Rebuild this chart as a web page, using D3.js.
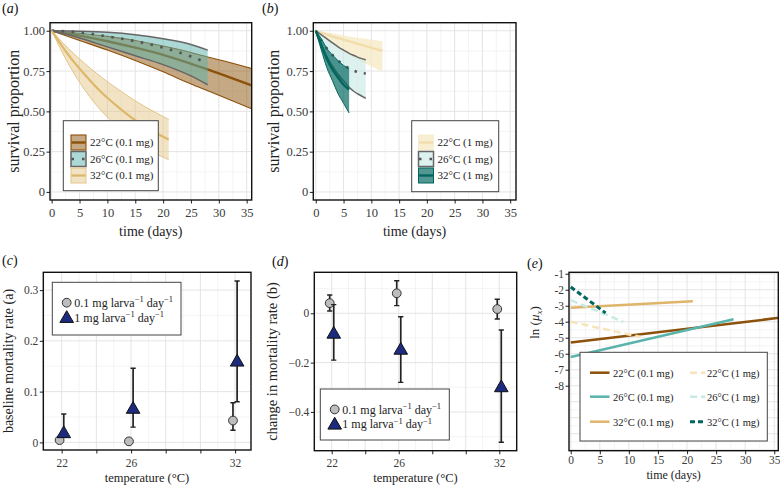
<!DOCTYPE html>
<html>
<head>
<meta charset="utf-8">
<script src="https://cdn.jsdelivr.net/npm/d3@7"></script>
<style>
  body { margin: 0; background: #fff; }
  svg { display: block; }
</style>
</head>
<body>
<svg id="chart" width="780" height="487"></svg>
<script>
// ---- survival curves, panel (a): 0.1 mg larva-1 day-1
const days22a = [0, 5, 10, 15, 20, 25, 28, 30, 36];
const mid22a  = [1, 0.97, 0.935, 0.895, 0.85, 0.795, 0.76, 0.735, 0.66];
const hi22a   = [1, 0.985, 0.965, 0.94, 0.905, 0.865, 0.837, 0.82, 0.765];
const lo22a   = [1, 0.94, 0.88, 0.815, 0.745, 0.67, 0.628, 0.6, 0.515];

const days26a = [0, 5, 10, 15, 20, 25, 28];
const mid26a  = [1, 0.99, 0.965, 0.935, 0.895, 0.84, 0.80];
const hi26a   = [1, 0.997, 0.99, 0.975, 0.95, 0.915, 0.88];
const lo26a   = [1, 0.955, 0.9, 0.845, 0.79, 0.72, 0.665];

const days32a = [0, 3, 6, 9, 12, 15, 18, 21];
const mid32a  = [1, 0.85, 0.725, 0.615, 0.525, 0.445, 0.38, 0.325];
const hi32a   = [1, 0.89, 0.795, 0.71, 0.635, 0.565, 0.505, 0.45];
const lo32a   = [1, 0.795, 0.63, 0.5, 0.4, 0.315, 0.25, 0.2];

// ---- survival curves, panel (b): 1 mg larva-1 day-1
const days22b = [0, 3, 6, 9, 12];
const mid22b  = [1, 0.965, 0.935, 0.905, 0.875];
const hi22b   = [1, 0.985, 0.965, 0.95, 0.935];
const lo22b   = [1, 0.92, 0.85, 0.795, 0.745];

const days26b = [0, 1, 2, 3, 4, 5, 6, 7, 8, 9];
const mid26b  = [1, 0.94, 0.89, 0.85, 0.815, 0.79, 0.765, 0.75, 0.74, 0.735];
const hi26b   = [1, 0.975, 0.95, 0.925, 0.9, 0.88, 0.86, 0.845, 0.83, 0.82];
const lo26b   = [1, 0.91, 0.84, 0.78, 0.73, 0.69, 0.65, 0.62, 0.6, 0.58];

const days32b = [0, 1, 2, 3, 4, 5, 6];
const mid32b  = [1, 0.91, 0.825, 0.76, 0.71, 0.665, 0.635];
const hi32b   = [1, 0.95, 0.89, 0.85, 0.815, 0.785, 0.765];
const lo32b   = [1, 0.88, 0.77, 0.69, 0.61, 0.55, 0.49];

// ---- parameter estimates, panels (c) and (d)
const temps = [22, 26, 32];
const baseLow    = [0.0045, 0.002, 0.043];
const baseLowLo  = [0.001, 0.0005, 0.024];
const baseLowHi  = [0.008, 0.004, 0.078];
const baseHigh   = [0.019, 0.067, 0.16];
const baseHighLo = [0.01, 0.03, 0.08];
const baseHighHi = [0.056, 0.146, 0.318];

const changeLow    = [0.041, 0.081, 0.017];
const changeLowLo  = [0.009, 0.031, -0.023];
const changeLowHi  = [0.074, 0.132, 0.057];
const changeHigh   = [-0.081, -0.146, -0.298];
const changeHighLo = [-0.19, -0.28, -0.523];
const changeHighHi = [0.035, -0.014, -0.068];

// ---- log mortality lines, panel (e)
const lnLabels = ["22°C (0.1 mg)", "26°C (0.1 mg)", "32°C (0.1 mg)", "22°C (1 mg)", "26°C (1 mg)", "32°C (1 mg)"];
const lnDays   = [[0, 36], [0, 28], [0, 21], [0, 12], [0, 9], [0, 6]];
const lnValues = [[-5.3, -3.75], [-6.2, -3.85], [-3.13, -2.72], [-4.0, -4.95], [-2.65, -4.0], [-1.83, -3.45]];

const timeTicks = [0, 5, 10, 15, 20, 25, 30, 35];
const survTicks = [0, 0.25, 0.5, 0.75, 1];
const tempTicks = [22, 24, 26, 28, 30, 32];

const serif = '"Liberation Serif", "Times New Roman", serif';
const svg = d3.select("#chart");
let clipCount = 0;

function makePanel(b, xDom, yDom) {
  const x = d3.scaleLinear().domain(xDom).range([b.l, b.r]);
  const y = d3.scaleLinear().domain(yDom).range([b.b, b.t]);
  const g = svg.append("g");
  const id = "clip" + (++clipCount);
  svg.append("clipPath").attr("id", id).append("rect")
    .attr("x", b.l).attr("y", b.t).attr("width", b.r - b.l).attr("height", b.b - b.t);
  g.append("rect").attr("x", b.l).attr("y", b.t).attr("width", b.r - b.l).attr("height", b.b - b.t).attr("fill", "#fff");
  const grid = g.append("g");
  const plot = g.append("g").attr("clip-path", `url(#${id})`);
  return { x, y, b, g, grid, plot };
}

function drawGrid(p, xMinor, xMajor, yMinor, yMajor) {
  const put = (vals, vertical, major) => {
    p.grid.selectAll(null).data(vals).join("line")
      .attr("x1", d => vertical ? p.x(d) : p.b.l)
      .attr("x2", d => vertical ? p.x(d) : p.b.r)
      .attr("y1", d => vertical ? p.b.t : p.y(d))
      .attr("y2", d => vertical ? p.b.b : p.y(d))
      .attr("stroke", major ? "#e4e4e4" : "#f1f1f1")
      .attr("stroke-width", major ? 1 : 0.8);
  };
  put(xMinor, true, false); put(yMinor, false, false);
  put(xMajor, true, true); put(yMajor, false, true);
}

function drawAxes(p, xt, xf, yt, yf, pad, size) {
  const ax = p.g.append("g").attr("transform", `translate(0,${p.b.b})`)
    .call(d3.axisBottom(p.x).tickValues(xt).tickFormat(xf).tickSize(3.5).tickPadding(pad));
  const ay = p.g.append("g").attr("transform", `translate(${p.b.l},0)`)
    .call(d3.axisLeft(p.y).tickValues(yt).tickFormat(yf).tickSize(3.5).tickPadding(1.5));
  [ax, ay].forEach(a => {
    a.select(".domain").remove();
    a.attr("font-family", serif).attr("font-size", size);
    a.selectAll("line").attr("stroke", "#333").attr("stroke-width", 1.1);
    a.selectAll("text").attr("fill", "#3a3a3a");
  });
  p.g.append("rect").attr("x", p.b.l).attr("y", p.b.t)
    .attr("width", p.b.r - p.b.l).attr("height", p.b.b - p.b.t)
    .attr("fill", "none").attr("stroke", "#111").attr("stroke-width", 1.4);
}

function label(x, y, txt, size, rotate) {
  const t = svg.append("text").attr("x", x).attr("y", y)
    .attr("font-family", serif).attr("font-size", size).attr("fill", "#222")
    .attr("text-anchor", "middle");
  if (rotate) t.attr("transform", `rotate(-90,${x},${y})`);
  t.text(txt);
  return t;
}

function panelTag(x, y, letter) {
  const t = svg.append("text").attr("x", x).attr("y", y).attr("font-family", serif).attr("font-size", 14).attr("fill", "#111");
  t.append("tspan").text("(");
  t.append("tspan").attr("font-style", "italic").text(letter);
  t.append("tspan").text(")");
}

function survival(p, days, mid, lo, hi, s) {
  const xi = (d, i) => p.x(days[i]);
  const area = d3.area().x(xi).y0((d, i) => p.y(lo[i])).y1((d, i) => p.y(hi[i])).curve(d3.curveMonotoneX);
  p.plot.append("path").datum(days).attr("d", area).attr("fill", s.fill).attr("fill-opacity", s.op);
  if (s.edge) {
    [lo, hi].forEach(arr => {
      const ln = d3.line().x(xi).y((d, i) => p.y(arr[i])).curve(d3.curveMonotoneX);
      p.plot.append("path").datum(days).attr("d", ln).attr("fill", "none")
        .attr("stroke", s.edge).attr("stroke-width", s.ew);
    });
  }
  const line = d3.line().x(xi).y((d, i) => p.y(mid[i])).curve(d3.curveMonotoneX);
  p.plot.append("path").datum(days).attr("d", line).attr("fill", "none")
    .attr("stroke", s.line).attr("stroke-width", s.lw)
    .attr("stroke-dasharray", s.dash || null);
}

function bandKey(g, x, y, s, txt) {
  const k = 15;
  g.append("rect").attr("x", x).attr("y", y).attr("width", k).attr("height", k)
    .attr("fill", s.fill).attr("fill-opacity", s.op)
    .attr("stroke", s.edge || s.fill).attr("stroke-opacity", s.edge ? 1 : 0.6).attr("stroke-width", s.edge ? s.ew : 1);
  g.append("line").attr("x1", x + 0.5).attr("x2", x + k - 0.5).attr("y1", y + k / 2).attr("y2", y + k / 2)
    .attr("stroke", s.line).attr("stroke-width", s.lw).attr("stroke-dasharray", s.keyDash || null);
  g.append("text").attr("x", x + k + 4).attr("y", y + k / 2 + 3.8)
    .attr("font-family", serif).attr("font-size", 11).attr("fill", "#222").text(txt);
}

// ---------------- panel (a)
const s22a = { fill: "#8c510a", op: 0.5, edge: "#8c510a", ew: 1.1, line: "#8c510a", lw: 2.4 };
const s26a = { fill: "#5ab4ac", op: 0.5, edge: "#666", ew: 1.5, line: "#555", lw: 2.6, dash: "2.5,7.5", keyDash: "2.5,8" };
const s32a = { fill: "#dfc27d", op: 0.45, edge: "#e2c688", ew: 1, line: "#ddb76a", lw: 2.2 };

const pa = makePanel({ l: 50, r: 251.7, t: 22.7, b: 200 }, [-0.3, 35.9], [-0.05, 1.05]);
drawGrid(pa, d3.range(2.5, 36, 5), timeTicks, d3.range(0.125, 1.01, 0.25), survTicks);
survival(pa, days22a, mid22a, lo22a, hi22a, s22a);
survival(pa, days26a, mid26a, lo26a, hi26a, s26a);
survival(pa, days32a, mid32a, lo32a, hi32a, s32a);
drawAxes(pa, timeTicks, d3.format("d"), survTicks, d => d === 0 ? "0" : d3.format(".2f")(d), 5, 12.5);
const legA = svg.append("g");
legA.append("rect").attr("x", 63.3).attr("y", 120.7).attr("width", 95).attr("height", 70)
  .attr("fill", "#fff").attr("stroke", "#444").attr("stroke-width", 1);
bandKey(legA, 71, 135, s22a, "22°C (0.1 mg)");
bandKey(legA, 71, 151.5, s26a, "26°C (0.1 mg)");
bandKey(legA, 71, 168, s32a, "32°C (0.1 mg)");
label(150.8, 236, "time (days)", 14);
label(19, 111.3, "survival proportion", 16, true);
panelTag(2, 13, "a");

// ---------------- panel (b)
const s22b = { fill: "#f6e8c3", op: 0.75, line: "#f1dcaa", lw: 2.2 };
const s26b = { fill: "#c7eae5", op: 0.6, edge: "#666", ew: 1.5, line: "#555", lw: 2.6, dash: "2.5,7", keyDash: "2.5,8" };
const s32b = { fill: "#01665e", op: 0.68, edge: "#01665e", ew: 1, line: "#01665e", lw: 2.4 };

const pb = makePanel({ l: 313.3, r: 516, t: 22.7, b: 200 }, [-0.45, 36.05], [-0.05, 1.05]);
drawGrid(pb, d3.range(2.5, 36, 5), timeTicks, d3.range(0.125, 1.01, 0.25), survTicks);
survival(pb, days22b, mid22b, lo22b, hi22b, s22b);
survival(pb, days26b, mid26b, lo26b, hi26b, s26b);
survival(pb, days32b, mid32b, lo32b, hi32b, s32b);
drawAxes(pb, timeTicks, d3.format("d"), survTicks, d => d === 0 ? "0" : d3.format(".2f")(d), 5, 12.5);
const legB = svg.append("g");
legB.append("rect").attr("x", 411.7).attr("y", 120.7).attr("width", 87).attr("height", 71)
  .attr("fill", "#fff").attr("stroke", "#444").attr("stroke-width", 1);
bandKey(legB, 418.5, 135, s22b, "22°C (1 mg)");
bandKey(legB, 418.5, 151.5, s26b, "26°C (1 mg)");
bandKey(legB, 418.5, 168, s32b, "32°C (1 mg)");
label(414.6, 236, "time (days)", 14);
label(279, 111.3, "survival proportion", 16, true);
panelTag(262, 13, "b");

// ---------------- panels (c) and (d)
const dodge = 0.12;
const triangle = d3.symbol().type(d3.symbolTriangle).size(80);

function errorPoints(p, vals, lo, hi, shift, isTri) {
  temps.forEach((t, i) => {
    const cx = p.x(t + shift);
    p.plot.append("line").attr("x1", cx).attr("x2", cx).attr("y1", p.y(lo[i])).attr("y2", p.y(hi[i]))
      .attr("stroke", "#222").attr("stroke-width", 1.7);
    [lo[i], hi[i]].forEach(v => {
      p.plot.append("line").attr("x1", cx - 2.6).attr("x2", cx + 2.6).attr("y1", p.y(v)).attr("y2", p.y(v))
        .attr("stroke", "#222").attr("stroke-width", 1.4);
    });
  });
  temps.forEach((t, i) => {
    const cx = p.x(t + shift), cy = p.y(vals[i]);
    if (isTri) {
      p.plot.append("path").attr("d", triangle).attr("transform", `translate(${cx},${cy + 1})`)
        .attr("fill", "#1d2b7e").attr("stroke", "#111").attr("stroke-width", 1);
    } else {
      p.plot.append("circle").attr("cx", cx).attr("cy", cy).attr("r", 4.4)
        .attr("fill", "#bdbdbd").attr("stroke", "#333").attr("stroke-width", 1);
    }
  });
}

function rateLegend(x, y, w, h) {
  const g = svg.append("g");
  g.append("rect").attr("x", x).attr("y", y).attr("width", w).attr("height", h)
    .attr("fill", "#fff").attr("stroke", "#444").attr("stroke-width", 1);
  const rows = [["0.1 mg larva", false], ["1 mg larva", true]];
  rows.forEach(([txt, tri], j) => {
    const cy = y + 20.4 + j * 14.8;
    if (tri) {
      g.append("path").attr("d", triangle).attr("transform", `translate(${x + 14.4},${cy + 1})`)
        .attr("fill", "#1d2b7e").attr("stroke", "#111").attr("stroke-width", 1);
    } else {
      g.append("circle").attr("cx", x + 14.4).attr("cy", cy).attr("r", 4.4)
        .attr("fill", "#bdbdbd").attr("stroke", "#333").attr("stroke-width", 1);
    }
    const t = g.append("text").attr("x", x + 22).attr("y", cy + 4.2)
      .attr("font-family", serif).attr("font-size", 12).attr("fill", "#222");
    t.append("tspan").text(txt);
    t.append("tspan").attr("dy", -4.5).attr("font-size", 8.5).text("−1");
    t.append("tspan").attr("dy", 4.5).text(" day");
    t.append("tspan").attr("dy", -4.5).attr("font-size", 8.5).text("−1");
  });
}

const tempFmt = d => (d === 22 || d === 26 || d === 32) ? d : "";

const pc = makePanel({ l: 43.3, r: 251, t: 272.3, b: 450 }, [20.94, 32.92], [-0.015, 0.335]);
drawGrid(pc, d3.range(21, 33, 2), tempTicks, d3.range(0.05, 0.34, 0.1), [0, 0.1, 0.2, 0.3]);
errorPoints(pc, baseLow, baseLowLo, baseLowHi, -dodge, false);
errorPoints(pc, baseHigh, baseHighLo, baseHighHi, dodge, true);
drawAxes(pc, tempTicks, tempFmt, [0, 0.1, 0.2, 0.3], d => d === 0 ? "0" : d3.format(".1f")(d), 5, 11.5);
rateLegend(52.3, 282.3, 128.7, 52.7);
label(147, 481.5, "temperature (°C)", 12.5);
label(12.5, 361, "baseline mortality rate (a)", 14, true);
panelTag(2, 265, "c");

const pd = makePanel({ l: 314.3, r: 516.7, t: 272.3, b: 450.7 }, [20.96, 33.04], [-0.557, 0.166]);
drawGrid(pd, d3.range(21, 34, 2), tempTicks, [-0.5, -0.3, -0.1, 0.1], [-0.4, -0.2, 0]);
errorPoints(pd, changeLow, changeLowLo, changeLowHi, -dodge, false);
errorPoints(pd, changeHigh, changeHighLo, changeHighHi, dodge, true);
drawAxes(pd, tempTicks, tempFmt, [-0.4, -0.2, 0], d => d === 0 ? "0" : d3.format(".1f")(d).replace("-", "−"), 5, 11.5);
rateLegend(320.3, 389, 129, 51);
label(415.5, 481.5, "temperature (°C)", 12.5);
label(277, 361.5, "change in mortality rate (b)", 14.5, true);
panelTag(272, 266, "d");

// ---------------- panel (e)
const lnColors = ["#8c510a", "#5ab4ac", "#dfb56a", "#f6e4bb", "#c7eae5", "#01665e"];
const lnDash = [null, null, null, "7,4", "7,4", "5,3"];
const lnWidth = [2.5, 2.5, 2.5, 2.5, 2.5, 3];

const pe = makePanel({ l: 569, r: 778.3, t: 272.3, b: 450.7 }, [-0.3, 35.7], [-12.06, -0.91]);
drawGrid(pe, d3.range(2.5, 36, 5), timeTicks, d3.range(-11.5, -0.9, 1), d3.range(-12, -0.9, 1));
lnLabels.forEach((name, i) => {
  const ln = d3.line().x((d, j) => pe.x(lnDays[i][j])).y(d => pe.y(d));
  pe.plot.append("path").datum(lnValues[i]).attr("d", ln).attr("fill", "none")
    .attr("stroke", lnColors[i]).attr("stroke-width", lnWidth[i])
    .attr("stroke-dasharray", lnDash[i]);
});
drawAxes(pe, timeTicks, d3.format("d"), d3.range(-8, -0.5, 1), d => "-" + Math.abs(d), 2, 11.5);
const legE = svg.append("g");
legE.append("rect").attr("x", 580).attr("y", 352.3).attr("width", 187.3).attr("height", 88.7)
  .attr("fill", "#fff").attr("stroke", "#444").attr("stroke-width", 1);
lnLabels.forEach((name, i) => {
  const col = i < 3 ? 0 : 1, row = i % 3;
  const y = [372.7, 396.7, 421.7][row];
  const x0 = col ? 690 : 590, x1 = col ? 705 : 609.5;
  legE.append("line").attr("x1", x0).attr("x2", x1).attr("y1", y).attr("y2", y)
    .attr("stroke", lnColors[i]).attr("stroke-width", lnWidth[i]).attr("stroke-dasharray", lnDash[i]);
  legE.append("text").attr("x", col ? 707 : 613).attr("y", y + 3.8)
    .attr("font-family", serif).attr("font-size", 10.5).attr("fill", "#222").text(name);
});
label(673.7, 479, "time (days)", 12);
const ey = svg.append("text").attr("x", 538.5).attr("y", 322.5).attr("text-anchor", "middle")
  .attr("font-family", serif).attr("font-size", 13).attr("fill", "#222")
  .attr("transform", "rotate(-90,538.5,322.5)");
ey.append("tspan").text("ln (");
ey.append("tspan").attr("font-style", "italic").text("μ");
ey.append("tspan").attr("font-style", "italic").attr("font-size", 9).attr("dy", 3).text("x");
ey.append("tspan").attr("dy", -3).text(")");
panelTag(527, 268, "e");
</script>
</body>
</html>
